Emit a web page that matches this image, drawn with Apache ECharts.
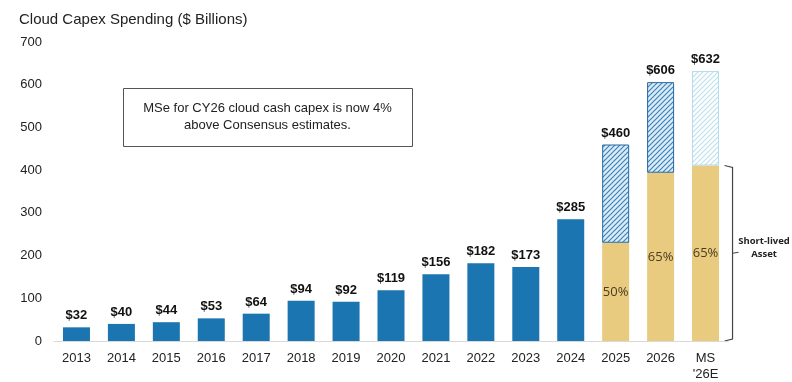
<!DOCTYPE html>
<html>
<head>
<meta charset="utf-8">
<script src="https://cdn.jsdelivr.net/npm/echarts@6/dist/echarts.min.js"></script>
<style>
  html, body { margin: 0; padding: 0; background: #fff; }
  #chart { width: 792px; height: 382px; }
</style>
</head>
<body>
<div id="chart"></div>
<script>
// Cloud capex by year, $ billions
const years = ['2013', '2014', '2015', '2016', '2017', '2018', '2019', '2020', '2021', '2022', '2023', '2024', '2025', '2026', "MS\n'26E"];
const totals = [32, 40, 44, 53, 64, 94, 92, 119, 156, 182, 173, 285, 460, 606, 632];
// share of spend going to short-lived assets (forecast years only)
const shortLivedPct = [null, null, null, null, null, null, null, null, null, null, null, null, 50, 65, 65];
const yTicks = [0, 100, 200, 300, 400, 500, 600, 700];

const BLUE = '#1A75B0';
const GOLD = '#E9CB80';

function stripes(bg, fg) {
  const c = document.createElement('canvas');
  c.width = 5; c.height = 5;
  const g = c.getContext('2d');
  g.fillStyle = bg; g.fillRect(0, 0, 5, 5);
  g.strokeStyle = fg; g.lineWidth = 1.2;
  g.beginPath();
  g.moveTo(-2.5, 2.5); g.lineTo(2.5, -2.5);
  g.moveTo(0, 5); g.lineTo(5, 0);
  g.moveTo(2.5, 7.5); g.lineTo(7.5, 2.5);
  g.stroke();
  return { image: c, repeat: 'repeat' };
}
const hatchDark = stripes('#DCEBF5', '#3A84BC');
const hatchLight = stripes('#FFFFFF', '#BCE0EC');

const isForecast = shortLivedPct.map(p => p !== null);
const baseVals = totals.map((t, i) => isForecast[i] ? t * shortLivedPct[i] / 100 : t);
const topVals = totals.map((t, i) => isForecast[i] ? t - baseVals[i] : null);

const lastIdx = years.length - 1;

const baseData = baseVals.map((v, i) => ({
  value: v,
  itemStyle: { color: isForecast[i] ? GOLD : BLUE },
  label: isForecast[i]
    ? { show: true, position: 'inside', formatter: shortLivedPct[i] + '%', color: '#4A3B1E',
        fontFamily: 'Open Sans', fontSize: 13 }
    : { show: true, position: 'top', distance: 5, formatter: '$' + totals[i], color: '#111',
        fontFamily: 'Liberation Sans', fontWeight: 'bold', fontSize: 13 }
}));

const topData = topVals.map((v, i) => v === null ? null : ({
  value: v,
  itemStyle: {
    color: i === lastIdx ? hatchLight : hatchDark,
    borderColor: i === lastIdx ? '#B3DCEB' : '#2468A3',
    borderWidth: 1
  },
  label: { show: true, position: 'top', distance: 5, formatter: '$' + totals[i], color: '#111',
           fontFamily: 'Liberation Sans', fontWeight: 'bold', fontSize: 13 }
}));

const chart = echarts.init(document.getElementById('chart'), null, { renderer: 'canvas' });

chart.setOption({
  animation: false,
  backgroundColor: '#fff',
  title: {
    text: 'Cloud Capex Spending ($ Billions)',
    left: 14, top: 7,
    textStyle: { fontFamily: 'Liberation Sans', fontSize: 15, fontWeight: 'normal', color: '#222' }
  },
  grid: { left: 54, right: 64, top: 42, bottom: 40, containLabel: false },
  xAxis: {
    type: 'category',
    data: years,
    axisLine: { lineStyle: { color: '#D9D9D9', width: 1 } },
    axisTick: { show: false },
    axisLabel: { color: '#222', fontFamily: 'Liberation Sans', fontSize: 13, margin: 9, lineHeight: 16, interval: 0 }
  },
  yAxis: {
    type: 'value',
    min: yTicks[0], max: yTicks[yTicks.length - 1], interval: 100,
    axisLine: { show: false },
    axisTick: { show: false },
    splitLine: { show: false },
    axisLabel: { color: '#222', fontFamily: 'Liberation Sans', fontSize: 13, margin: 12 }
  },
  series: [
    { name: 'Base', type: 'bar', stack: 'capex', barWidth: 27, data: baseData },
    { name: 'Remainder', type: 'bar', stack: 'capex', barWidth: 27, data: topData }
  ]
});

// Annotation box and short-lived asset bracket
const msTop = chart.convertToPixel({ xAxisIndex: 0, yAxisIndex: 0 }, [lastIdx, baseVals[lastIdx]]);
const msZero = chart.convertToPixel({ xAxisIndex: 0, yAxisIndex: 0 }, [lastIdx, 0]);
const bx = msTop[0] + 27;
const midY = (msTop[1] + msZero[1]) / 2;

chart.setOption({
  graphic: [
    {
      type: 'rect', left: 123, top: 88,
      shape: { width: 289, height: 58 },
      style: { fill: '#fff', stroke: '#555', lineWidth: 1 }
    },
    {
      type: 'text', x: 267.5, y: 117,
      style: {
        text: 'MSe for CY26 cloud cash capex is now 4%\nabove Consensus estimates.',
        fill: '#222', font: '13px "Liberation Sans"', align: 'center', verticalAlign: 'middle', lineHeight: 17
      }
    },
    {
      type: 'polyline',
      shape: { points: [[bx - 8, msTop[1]], [bx, msTop[1] + 2], [bx, msZero[1] - 2], [bx - 8, msZero[1]]] },
      style: { stroke: '#444', lineWidth: 1.2, fill: null }
    },
    {
      type: 'line',
      shape: { x1: bx, y1: midY, x2: bx + 6, y2: midY - 1 },
      style: { stroke: '#444', lineWidth: 1.2 }
    },
    {
      type: 'text', x: 764, y: midY - 5,
      style: {
        text: 'Short-lived\nAsset',
        fill: '#222', font: 'bold 9.5px "Open Sans"', align: 'center', verticalAlign: 'middle', lineHeight: 13
      }
    }
  ]
});
</script>
</body>
</html>
